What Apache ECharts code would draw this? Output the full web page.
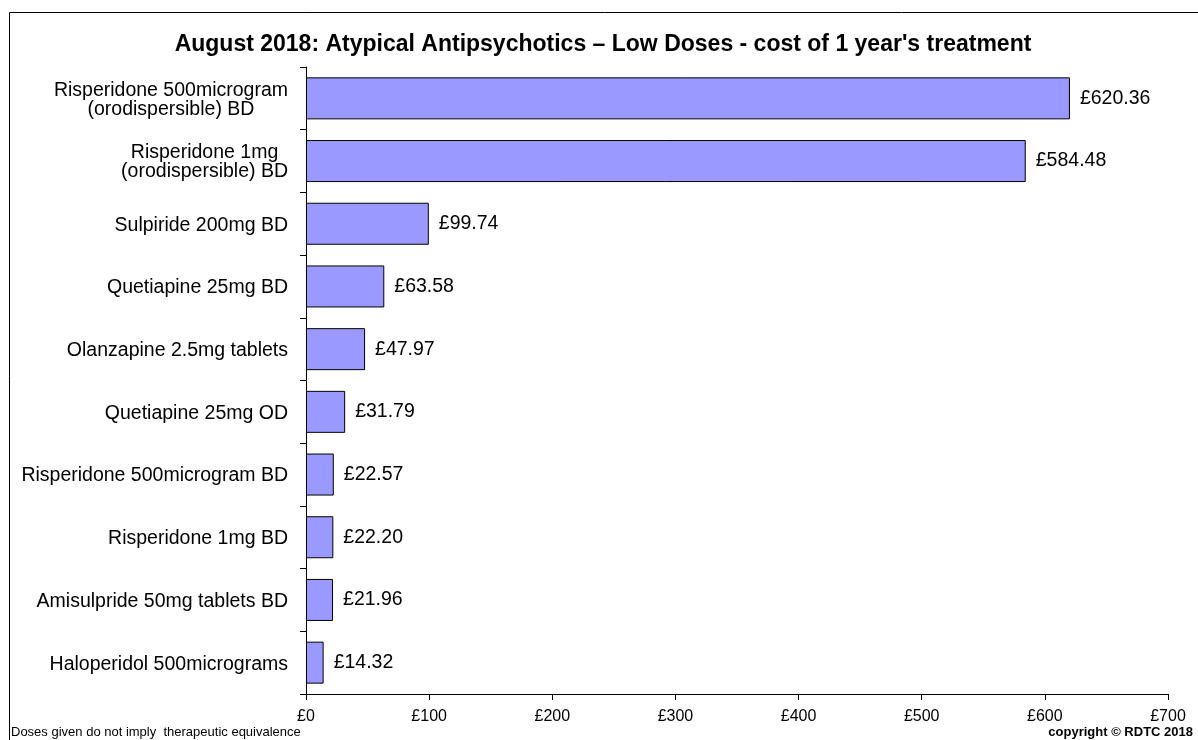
<!DOCTYPE html>
<html>
<head>
<meta charset="utf-8">
<script src="https://cdn.jsdelivr.net/npm/echarts@6/dist/echarts.min.js"></script>
<style>
html,body{margin:0;padding:0;background:#fff;}
#chart{width:1198px;height:740px;}
</style>
</head>
<body>
<div id="chart"></div>
<script>
const categories = [
  "Risperidone 500microgram\n(orodispersible) BD",
  "Risperidone 1mg\n(orodispersible) BD",
  "Sulpiride 200mg BD",
  "Quetiapine 25mg BD",
  "Olanzapine 2.5mg tablets",
  "Quetiapine 25mg OD",
  "Risperidone 500microgram BD",
  "Risperidone 1mg BD",
  "Amisulpride 50mg tablets BD",
  "Haloperidol 500micrograms"
];
const costs = [620.36, 584.48, 99.74, 63.58, 47.97, 31.79, 22.57, 22.20, 21.96, 14.32];
const xTicks = [0, 100, 200, 300, 400, 500, 600, 700];

const FONT = '"Liberation Sans", Arial, sans-serif';
const chart = echarts.init(document.getElementById('chart'));
chart.setOption({
  animation: false,
  backgroundColor: '#fff',
  textStyle: { fontFamily: FONT },
  title: {
    text: "August 2018: Atypical Antipsychotics \u2013 Low Doses - cost of 1 year's treatment",
    left: 598, top: 28, textAlign: 'center',
    textStyle: { fontFamily: FONT, fontWeight: 'bold', fontSize: 23, color: '#000' }
  },
  grid: { left: 306, right: 30, top: 67, bottom: 46, containLabel: false },
  xAxis: {
    type: 'value', min: xTicks[0], max: xTicks[xTicks.length - 1], interval: 100,
    axisLine: { show: true, lineStyle: { color: '#000', width: 1 } },
    axisTick: { show: true, length: 6, lineStyle: { color: '#000' } },
    splitLine: { show: false },
    axisLabel: { color: '#000', fontSize: 16, fontFamily: FONT, margin: 15, formatter: v => '\u00a3' + v }
  },
  yAxis: {
    type: 'category', data: categories, inverse: true,
    axisLine: { show: true, lineStyle: { color: '#000', width: 1 } },
    axisTick: { show: true, length: 6, lineStyle: { color: '#000' } },
    axisLabel: {
      color: '#000', fontSize: 19.5, fontFamily: FONT, margin: 18, align: 'right', lineHeight: 19,
      padding: [3, 0, 0, 0],
      formatter: v => v.split('\n').map(l => '{c|' + l + '}').join('\n'),
      rich: { c: { align: 'center', fontSize: 19.5, fontFamily: FONT, color: '#000', lineHeight: 19 } }
    }
  },
  series: [{
    type: 'bar', data: costs, barWidth: '67%',
    itemStyle: { color: '#9999FF', borderColor: '#000', borderWidth: 1 },
    label: { show: true, position: 'right', distance: 10, color: '#000', fontSize: 19.5, fontFamily: FONT,
      formatter: p => '\u00a3' + p.value.toFixed(2) }
  }],
  graphic: [
    { type: 'rect', shape: { x: 9.5, y: 12.5, width: 1200, height: 740 }, style: { fill: null, stroke: '#000', lineWidth: 1 }, silent: true, z: -1 },
    { type: 'text', left: 11, top: 726, style: { text: 'Doses given do not imply  therapeutic equivalence', font: '13px ' + FONT, fill: '#000' } },
    { type: 'text', right: 5, top: 726, style: { text: 'copyright \u00a9 RDTC 2018', font: 'bold 13px ' + FONT, fill: '#000' } }
  ]
});
</script>
</body>
</html>
